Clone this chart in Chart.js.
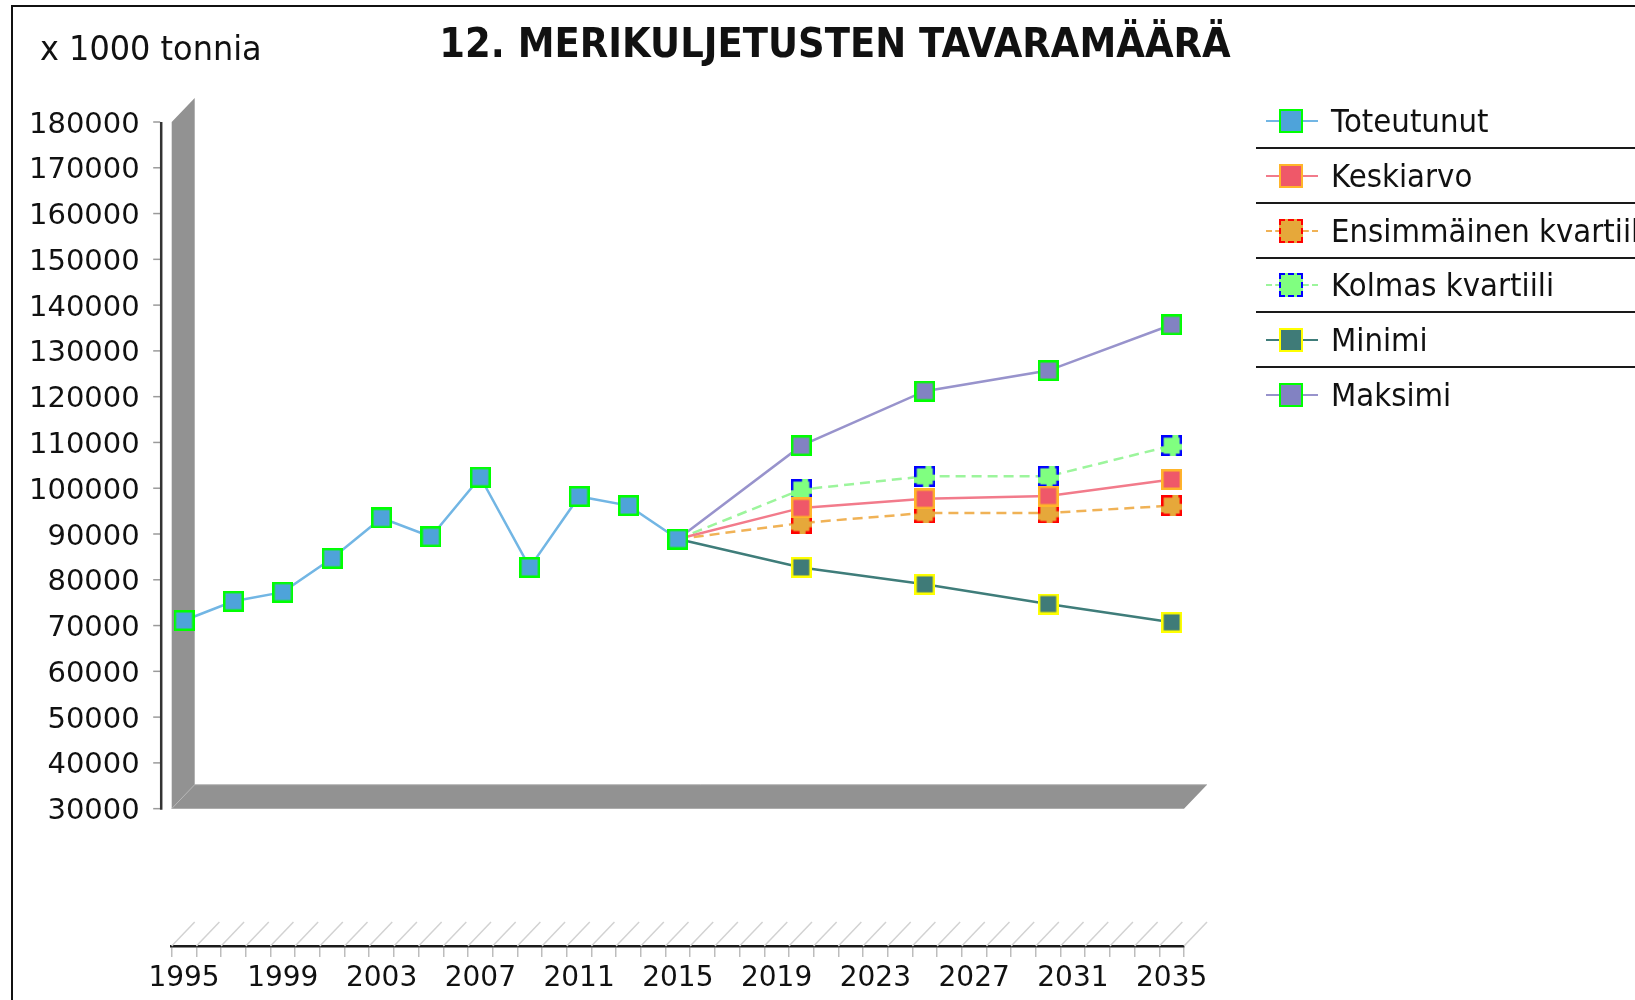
<!DOCTYPE html>
<html>
<head>
<meta charset="utf-8">
<script src="https://cdn.jsdelivr.net/npm/chart.js@4"></script>
<style>
  html, body { margin: 0; padding: 0; background: #fff; overflow: hidden; }
  body { width: 1635px; height: 1000px; position: relative; font-family: "DejaVu Sans", sans-serif; color: #111; }
  #frame { position: absolute; left: 11px; top: 5px; width: 1700px; height: 1100px; border-left: 2.5px solid #111; border-top: 2.5px solid #111; }
  #chart { position: absolute; left: 0; top: 0; }
  #title { position: absolute; left: 335px; top: 23px; width: 1000px; text-align: center; font-size: 40px; line-height: 40px; font-weight: bold; white-space: nowrap; transform: scaleX(0.925); }
  #unit { position: absolute; left: 40px; top: 31px; font-size: 34px; line-height: 34px; white-space: nowrap; transform: scaleX(0.94); transform-origin: left center; }
  .item { position: absolute; left: 1256px; height: 32px; width: 400px; }
  .item .ln { position: absolute; left: 10px; top: 15px; width: 52px; height: 0; border-top: 2px solid; }
  .item .sq { position: absolute; left: 23px; top: 4px; width: 20px; height: 20px; box-sizing: content-box; border: 2px solid; }
  .item .tx { position: absolute; left: 75px; top: 0; font-size: 32px; line-height: 32px; white-space: nowrap; transform: scaleX(0.915); transform-origin: left center; }
  .sep { position: absolute; left: 1256px; width: 400px; height: 0; border-top: 2.5px solid #1a1a1a; }
</style>
</head>
<body>
<div id="frame"></div>
<canvas id="chart" width="1635" height="1000"></canvas>
<div id="title">12. MERIKULJETUSTEN TAVARAMÄÄRÄ</div>
<div id="unit">x 1000 tonnia</div>
<div id="legend"></div>
<script>
// Categories (years on the x axis)
const years = ['1995', '1996', '1997', '1998', '1999', '2000', '2001', '2002', '2003', '2004',
  '2005', '2006', '2007', '2008', '2009', '2010', '2011', '2012', '2013', '2014',
  '2015', '2016', '2017', '2018', '2019', '2020', '2021', '2022', '2023', '2024',
  '2025', '2026', '2027', '2028', '2029', '2030', '2031', '2032', '2033', '2034', '2035'];
const xLabelYears = ['1995', '1999', '2003', '2007', '2011', '2015', '2019', '2023', '2027', '2031', '2035'];
const yTickValues = [30000, 40000, 50000, 60000, 70000, 80000, 90000, 100000, 110000,
  120000, 130000, 140000, 150000, 160000, 170000, 180000];

// Toteutunut (actual)
const actualYears = ['1995', '1997', '1999', '2001', '2003', '2005', '2007', '2009', '2011', '2013', '2015'];
const actualValues = [71100, 75300, 77300, 84700, 93500, 89400, 102400, 82700, 98200, 96200, 88900];

// Forecasts
const forecastYears = ['2015', '2020', '2025', '2030', '2035'];
const meanValues = [88900, 95700, 97700, 98300, 101900];
const q1Values = [88900, 92400, 94600, 94600, 96200];
const q3Values = [88900, 99700, 102600, 102600, 109300];
const minValues = [88900, 82700, 79000, 74700, 70700];
const maxValues = [88900, 109300, 121200, 125700, 135700];

function makeMarker(fill, stroke, dashed) {
  const c = document.createElement('canvas');
  c.width = 21; c.height = 21;
  const g = c.getContext('2d');
  g.fillStyle = fill;
  g.fillRect(0, 0, 21, 21);
  g.strokeStyle = stroke;
  g.lineWidth = 2.5;
  if (dashed) g.setLineDash([10, 6]);
  g.strokeRect(1.25, 1.25, 18.5, 18.5);
  return c;
}

function pairs(xs, ys) {
  return xs.map((x, i) => ({ x: x, y: ys[i] }));
}

const series = [
  { label: 'Toteutunut', x: actualYears, y: actualValues, line: '#72b6e4', fill: '#4ea3da', edge: '#00ff00', dashed: false },
  { label: 'Keskiarvo', x: forecastYears, y: meanValues, line: '#f27b8b', fill: '#ef5869', edge: '#ffb52a', dashed: false },
  { label: 'Ensimmäinen kvartiili', x: forecastYears, y: q1Values, line: '#f0b256', fill: '#e6a83a', edge: '#ff0000', dashed: true },
  { label: 'Kolmas kvartiili', x: forecastYears, y: q3Values, line: '#9cf59c', fill: '#80ff80', edge: '#0000ff', dashed: true },
  { label: 'Minimi', x: forecastYears, y: minValues, line: '#3f7d7a', fill: '#3f7b78', edge: '#ffff00', dashed: false },
  { label: 'Maksimi', x: forecastYears, y: maxValues, line: '#9893cc', fill: '#8282c2', edge: '#00ff00', dashed: false }
];

const DEPTH_X = 23, DEPTH_Y = 24;

// 3D wall/floor, hatched axis edge and the offset y axis line
const depthPlugin = {
  id: 'depth',
  beforeDatasetsDraw(chart) {
    const ctx = chart.ctx;
    const xs = chart.scales.x, ys = chart.scales.y;
    const L = xs.left, R = xs.right;
    const yLow = ys.getPixelForValue(yTickValues[0]);
    const yHigh = ys.getPixelForValue(yTickValues[yTickValues.length - 1]);
    ctx.save();
    ctx.fillStyle = '#929292';
    ctx.beginPath();
    ctx.moveTo(L, yLow);
    ctx.lineTo(L, yHigh);
    ctx.lineTo(L + DEPTH_X, yHigh - DEPTH_Y);
    ctx.lineTo(L + DEPTH_X, yLow - DEPTH_Y);
    ctx.lineTo(R + DEPTH_X, yLow - DEPTH_Y);
    ctx.lineTo(R, yLow);
    ctx.closePath();
    ctx.fill();
    ctx.strokeStyle = '#b8b8b8';
    ctx.lineWidth = 1;
    ctx.beginPath();
    ctx.moveTo(L, yLow);
    ctx.lineTo(L + DEPTH_X, yLow - DEPTH_Y);
    ctx.lineTo(R + DEPTH_X, yLow - DEPTH_Y);
    ctx.stroke();

    // hatch lines above the category axis
    const n = years.length;
    const bottom = xs.top;
    ctx.strokeStyle = '#d2d2d2';
    ctx.lineWidth = 1.5;
    for (let i = 0; i <= n; i++) {
      const x = L + i * (R - L) / n;
      ctx.beginPath();
      ctx.moveTo(x, bottom);
      ctx.lineTo(x + DEPTH_X, bottom - DEPTH_Y);
      ctx.stroke();
    }

    // y axis line with tick marks, set off from the wall
    const axisX = ys.right - 10.5;
    ctx.strokeStyle = '#9a9a9a';
    ctx.lineWidth = 1.5;
    ys.ticks.forEach(t => {
      const y = ys.getPixelForValue(t.value);
      ctx.beginPath();
      ctx.moveTo(axisX - 8, y);
      ctx.lineTo(axisX - 1, y);
      ctx.stroke();
    });
    ctx.strokeStyle = '#333';
    ctx.lineWidth = 2.5;
    ctx.beginPath();
    ctx.moveTo(axisX, yHigh);
    ctx.lineTo(axisX, yLow + 1);
    ctx.stroke();
    ctx.restore();
  }
};

Chart.defaults.font.family = '"DejaVu Sans", sans-serif';

const ctx = document.getElementById('chart').getContext('2d');
new Chart(ctx, {
  type: 'line',
  data: {
    datasets: series.map(s => ({
      label: s.label,
      data: pairs(s.x, s.y),
      borderColor: s.line,
      borderWidth: 2.5,
      borderDash: s.dashed ? [10, 6] : [],
      pointStyle: makeMarker(s.fill, s.edge, s.dashed),
      pointRadius: 10,
      tension: 0,
      fill: false
    }))
  },
  options: {
    responsive: false,
    animation: false,
    layout: { padding: { left: 0, top: 122, right: 451, bottom: 0 } },
    plugins: { legend: { display: false }, tooltip: { enabled: false } },
    scales: {
      x: {
        type: 'category',
        labels: years,
        offset: true,
        grid: { display: true, offset: true, drawOnChartArea: false, tickLength: 11, color: '#bdbdbd', lineWidth: 1.5 },
        border: { display: true, color: '#1a1a1a', width: 2.5 },
        ticks: {
          autoSkip: false,
          maxRotation: 0,
          padding: 5,
          color: '#111',
          font: { size: 28 },
          callback: function (v) {
            const y = this.getLabelForValue(v);
            return xLabelYears.includes(y) ? y : '';
          }
        },
        afterFit(s) { s.height = 54; }
      },
      y: {
        min: 0,
        max: 180000,
        afterBuildTicks(s) { s.ticks = yTickValues.map(v => ({ value: v })); },
        grid: { display: false },
        border: { display: false },
        ticks: { padding: 24, labelOffset: 3, color: '#111', font: { size: 29 }, callback: v => String(v) },
        afterFit(s) { s.width = 171.7; }
      }
    }
  },
  plugins: [depthPlugin]
});

// legend with separator lines
const legend = document.getElementById('legend');
series.forEach((s, i) => {
  const top = 121 + i * 54.8;
  const item = document.createElement('div');
  item.className = 'item';
  item.style.top = (top - 16) + 'px';
  const ln = document.createElement('div');
  ln.className = 'ln';
  ln.style.borderTopColor = s.line;
  if (s.dashed) ln.style.borderTopStyle = 'dashed';
  const sq = document.createElement('div');
  sq.className = 'sq';
  sq.style.background = s.fill;
  sq.style.borderColor = s.edge;
  if (s.dashed) sq.style.borderStyle = 'dashed';
  const tx = document.createElement('div');
  tx.className = 'tx';
  tx.textContent = s.label;
  item.appendChild(ln);
  item.appendChild(sq);
  item.appendChild(tx);
  legend.appendChild(item);
  if (i < series.length - 1) {
    const sep = document.createElement('div');
    sep.className = 'sep';
    sep.style.top = (top + 27 - 1) + 'px';
    legend.appendChild(sep);
  }
});
</script>
</body>
</html>
